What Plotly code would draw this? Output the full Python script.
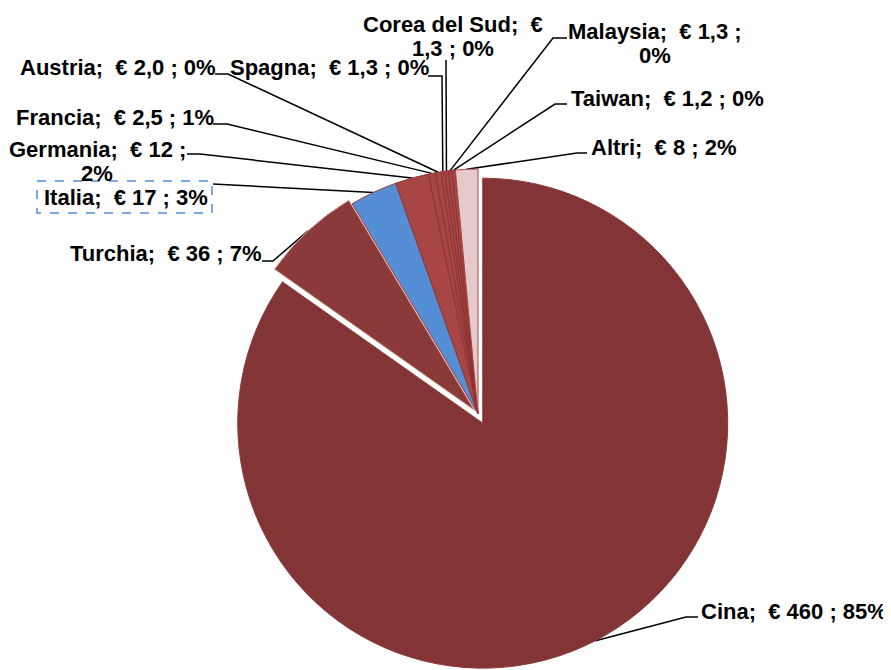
import math
import plotly.graph_objects as go

# ---------------- data ----------------
countries = ["Cina", "Turchia", "Italia", "Germania", "Francia", "Austria",
             "Spagna", "Corea del Sud", "Malaysia", "Taiwan", "Altri"]
values = [460, 36, 17, 12, 2.5, 2.0, 1.3, 1.3, 1.3, 1.2, 8]
value_text = ["460", "36", "17", "12", "2,5", "2,0", "1,3", "1,3", "1,3", "1,2", "8"]
percent_text = ["85%", "7%", "3%", "2%", "1%", "0%", "0%", "0%", "0%", "0%", "2%"]

# ---------------- style / layout ----------------
OFF = 8                      # page body margin
W, H = 891 - OFF, 670 - OFF  # figure size
CX, CY, R = 478, 414, 245    # pie centre/radius in screen pixels
pulls = [0.042, 0.02, 0, 0, 0, 0, 0, 0, 0, 0, 0]
colors = ["#833434", "#8B3A3A", "#558ED5", "#A84646", "#A84646", "#A84646",
          "#A84646", "#A84646", "#A84646", "#A84646", "#E6C9CA"]
line_colors = ["#8A3A3A", "#E0B0B0", "#9A4040", "#8C3434", "#8C3434", "#8C3434",
               "#8C3434", "#8C3434", "#8C3434", "#8C3434", "#A84646"]

FONT = "Liberation Sans, Arial, sans-serif"
FSIZE = 22
LINE_GAP = 24

label_layout = {
    "Cina":          dict(cx=794, cy=611, path=[(698, 617), (686, 617)]),
    "Turchia":       dict(cx=166, cy=253, path=[(262, 261), (273, 261)]),
    "Italia":        dict(cx=126, cy=197, path=[(213, 184)]),
    "Germania":      dict(cx=97, cy=149, path=[(187, 154), (200, 154)]),
    "Francia":       dict(cx=115, cy=117, path=[(213, 124), (227, 124)]),
    "Austria":       dict(cx=118, cy=67, path=[(215, 74), (228, 74)]),
    "Spagna":        dict(cx=329, cy=67, path=[(428, 76), (442, 76)]),
    "Corea del Sud": dict(cx=453, cy=24, path=[(446, 60)]),
    "Malaysia":      dict(cx=655, cy=31, path=[(567, 38), (553, 38)]),
    "Taiwan":        dict(cx=667, cy=98, path=[(567, 104), (555, 104)]),
    "Altri":         dict(cx=663, cy=147, path=[(587, 153), (577, 153)]),
}
line_breaks = {
    "Germania": ["Germania;\u00a0\u00a0€ 12 ;", "2%"],
    "Corea del Sud": ["Corea del Sud;\u00a0\u00a0€", "1,3 ; 0%"],
    "Malaysia": ["Malaysia;\u00a0\u00a0€ 1,3 ;", "0%"],
}

# ---------------- pie domain from geometry ----------------
maxpull = max(pulls)
box = 2 * R * (1 + maxpull)
fx, fy = CX - OFF, CY - OFF
dom_x = [max(0, (fx - box / 2 - 30) / W), min(1, (fx + box / 2 + 30) / W)]
dom_y = [max(0, (H - fy - box / 2) / H), min(1, (H - fy + box / 2) / H)]

fig = go.Figure()
fig.add_trace(go.Pie(
    labels=countries, values=values, sort=False, direction="clockwise",
    rotation=0, pull=pulls, textinfo="none", hoverinfo="label+value+percent",
    marker=dict(colors=colors, line=dict(color=line_colors, width=1)),
    domain=dict(x=dom_x, y=dom_y), showlegend=False,
))

# ---------------- leader lines (edge points from data angles) ----------------
total = sum(values)
xs, ys = [], []
start = 0.0
for name, v, p in zip(countries, values, pulls):
    span = v / total * 360
    mid = math.radians(start + span / 2)
    dx, dy = math.sin(mid), -math.cos(mid)
    ex = CX + dx * R * (1 + p)
    ey = CY + dy * R * (1 + p)
    for (px, py) in label_layout[name]["path"] + [(ex, ey)]:
        xs.append(px)
        ys.append(py)
    xs.append(None)
    ys.append(None)
    start += span

fig.add_trace(go.Scatter(x=xs, y=ys, mode="lines",
                         line=dict(color="black", width=1.5),
                         hoverinfo="skip", showlegend=False))

# ---------------- labels ----------------
annotations = []
for name, vt, pt in zip(countries, value_text, percent_text):
    lay = label_layout[name]
    texts = line_breaks.get(name, [f"{name};\u00a0\u00a0€ {vt} ; {pt}"])
    for k, t in enumerate(texts):
        annotations.append(dict(
            x=lay["cx"], y=lay["cy"] + k * LINE_GAP, xref="x", yref="y",
            text=f"<b>{t}</b>", showarrow=False, xanchor="center", yanchor="middle",
            font=dict(family=FONT, size=FSIZE, color="black"),
        ))

fig.update_layout(
    width=W, height=H, margin=dict(l=0, r=0, t=0, b=0),
    paper_bgcolor="white", plot_bgcolor="rgba(0,0,0,0)",
    xaxis=dict(range=[OFF, OFF + W], visible=False, fixedrange=True),
    yaxis=dict(range=[OFF + H, OFF], visible=False, fixedrange=True),
    annotations=annotations,
    shapes=[dict(type="rect", xref="x", yref="y", x0=37, y0=181, x1=212, y1=213,
                 line=dict(color="#558ED5", width=1.5, dash="dash"))],
)

fig.write_html("out.html")
